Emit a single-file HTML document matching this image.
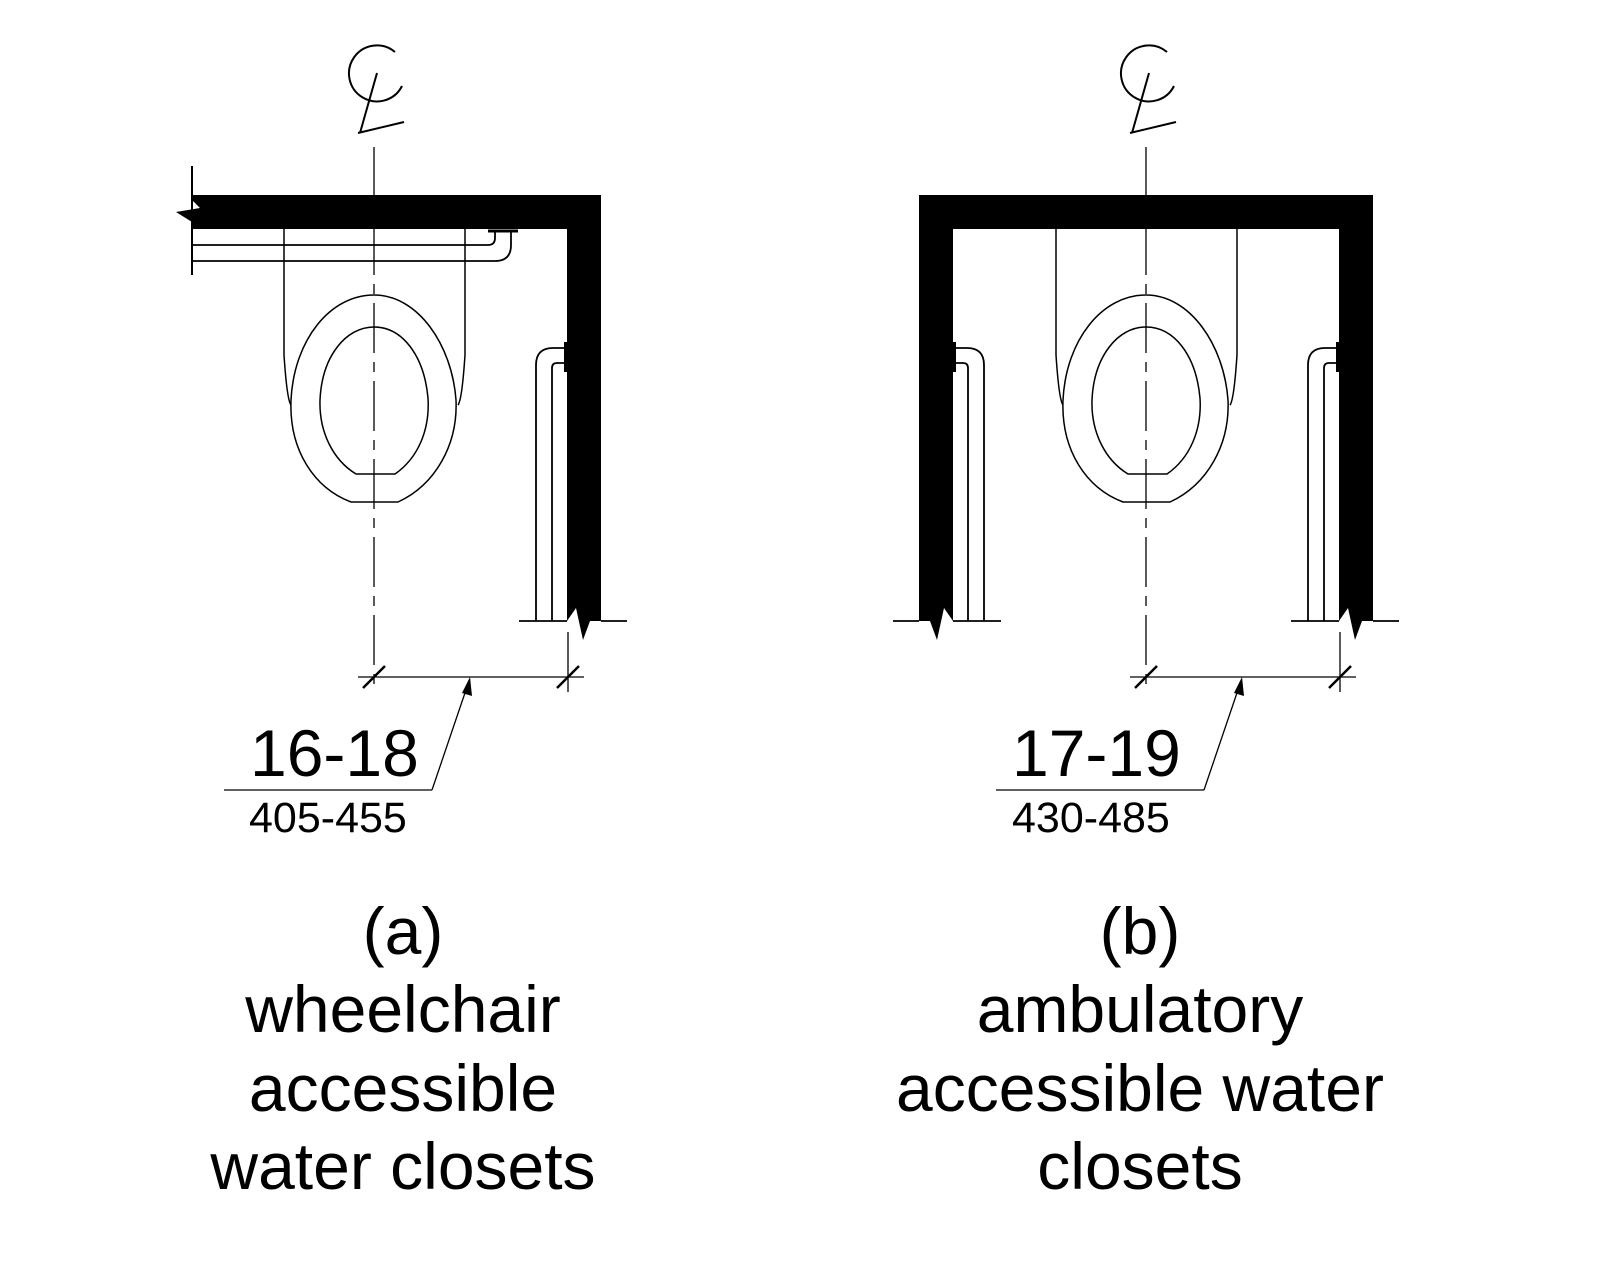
<!DOCTYPE html>
<html><head><meta charset="utf-8"><style>
html,body{margin:0;padding:0;background:#fff;}
svg{display:block;}
text{font-family:"Liberation Sans",Arial,sans-serif;fill:#000;}
</style></head><body>
<svg width="1600" height="1280" viewBox="0 0 1600 1280" xmlns="http://www.w3.org/2000/svg">
<defs>
<g id="cl">
  <path d="M395,52 A28,28 0 1 0 402,86" fill="none" stroke="#000" stroke-width="2"/>
  <line x1="377" y1="73" x2="360" y2="133" stroke="#000" stroke-width="2"/>
  <line x1="358" y1="133" x2="404" y2="122" stroke="#000" stroke-width="2"/>
  <line x1="374" y1="147" x2="374" y2="692" stroke="#000" stroke-width="1.3" stroke-dasharray="50,9,10,9"/>
</g>
<g id="bowl" fill="none" stroke="#000" stroke-width="1.5">
  <path d="M284,229 L284,355 Q287,400 291,405"/>
  <path d="M465,229 L465,355 Q462,400 458,405"/>
  <path d="M351,502 L398,502 C435,485 458,445 456,400 C452,345 418,295 374,295 C330,295 294,340 291,400 C289,450 314,488 351,502 Z"/>
  <path d="M356,474 L395,474 C418,458 430,430 428,398 C424,355 402,327 374,327 C346,327 322,356 320,400 C319,432 333,460 356,474 Z"/>
</g>
<g id="dim">
  <line x1="358" y1="677" x2="584" y2="677" stroke="#000" stroke-width="1.3"/>
  <line x1="568" y1="632" x2="568" y2="692" stroke="#000" stroke-width="1.3"/>
  <line x1="363" y1="688" x2="385" y2="666" stroke="#000" stroke-width="2.5"/>
  <line x1="557" y1="688" x2="579" y2="666" stroke="#000" stroke-width="2.5"/>
  <line x1="224" y1="790" x2="432" y2="790" stroke="#000" stroke-width="1.3"/>
  <line x1="432" y1="790" x2="468" y2="684" stroke="#000" stroke-width="1.3"/>
  <polygon points="470,677 472,696 462,693" fill="#000"/>
</g>
<g id="rbar" fill="none" stroke="#000" stroke-width="1.8">
  <path d="M536,621 L536,365 Q536,348 553,348 L566,348"/>
  <path d="M552,621 L552,368 Q552,363 557,363 L566,363"/>
  <rect x="564" y="342" width="3" height="30" fill="#000" stroke="none"/>
  <line x1="519" y1="621" x2="567" y2="621"/>
  <line x1="601" y1="621" x2="627" y2="621"/>
</g>
</defs>

<use href="#cl"/>
<polygon points="192,195 601,195 601,621 590,621 583,640 576,608 567,621 567,229 192,229 192,222 176,212 200,208 192,200" fill="#000"/>
<line x1="192" y1="166" x2="192" y2="275" stroke="#000" stroke-width="2"/>
<g fill="none" stroke="#000" stroke-width="1.8">
  <path d="M192,245 L488,245 Q495,245 495,238 L495,232"/>
  <path d="M192,261 L495,261 Q511,261 511,245 L511,232"/>
  <line x1="488" y1="231" x2="518" y2="231" stroke-width="3"/>
</g>
<use href="#bowl"/>
<use href="#rbar"/>
<use href="#dim"/>
<text x="250" y="776" font-size="66">16-18</text>
<text x="249" y="832" font-size="43">405-455</text>
<g font-size="66" text-anchor="middle">
<text x="403" y="954">(a)</text>
<text x="403" y="1032">wheelchair</text>
<text x="403" y="1111">accessible</text>
<text x="403" y="1189">water closets</text>
</g>

<g transform="translate(772,0)">
  <use href="#cl"/>
  <use href="#bowl"/>
  <use href="#rbar"/>
  <polygon points="567,229 567,621 576,608 583,640 590,621 601,621 601,195 180,195 180,229" fill="#000"/>
  <g transform="translate(748,0) scale(-1,1)">
    <use href="#rbar"/>
    <polygon points="567,229 567,621 576,608 583,640 590,621 601,621 601,195 560,195 560,229" fill="#000"/>
  </g>
  <use href="#dim"/>
</g>
<text x="1012" y="776" font-size="66">17-19</text>
<text x="1012" y="832" font-size="43">430-485</text>
<g font-size="66" text-anchor="middle">
<text x="1140" y="954">(b)</text>
<text x="1140" y="1032">ambulatory</text>
<text x="1140" y="1111">accessible water</text>
<text x="1140" y="1189">closets</text>
</g>
</svg>
</body></html>
